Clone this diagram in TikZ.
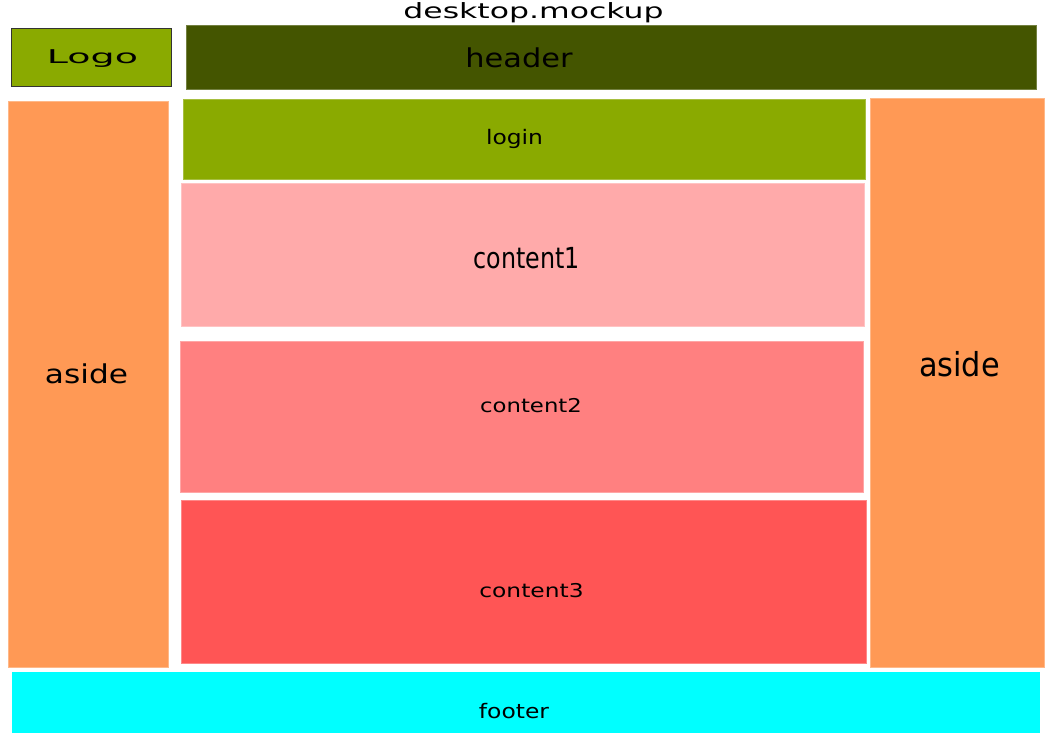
\documentclass[tikz,border=0pt]{standalone}
\usepackage{fontspec}
\setmainfont{DejaVu Sans}
\definecolor{logogreen}{HTML}{8AAA00}
\definecolor{headgreen}{HTML}{445500}
\definecolor{asideorange}{HTML}{FF9955}
\definecolor{pinkA}{HTML}{FFAAAA}
\definecolor{pinkB}{HTML}{FF8080}
\definecolor{pinkC}{HTML}{FF5555}
\definecolor{cyanF}{HTML}{00FFFF}
\newcommand{\lbl}[3]{\scalebox{#1}[1]{\fontsize{#2}{#2}\selectfont #3}}
\tikzset{
  box/.style={anchor=north west, inner sep=0pt, outer sep=0pt, line width=1pt},
  lab/.style={anchor=base, inner sep=0pt, text=black}
}
\begin{document}
\begin{tikzpicture}[x=1pt,y=-1pt]
\useasboundingbox[fill=white] (0,0) rectangle (1053,745);
% boxes
\node[box, fill=logogreen, draw=black!80, minimum width=160pt, minimum height=58pt] (logo) at (11,28) {};
\node[box, fill=headgreen, draw=headgreen!75!white, minimum width=850pt, minimum height=64pt] (header) at (186,25) {};
\node[box, fill=asideorange, draw=asideorange!70!white, minimum width=160pt, minimum height=566pt] (asideL) at (8,101) {};
\node[box, fill=logogreen, draw=logogreen!75!white, minimum width=682pt, minimum height=80pt] (login) at (183,99) {};
\node[box, fill=pinkA, draw=pinkA!70!white, minimum width=683pt, minimum height=143pt] (content1) at (181,183) {};
\node[box, fill=pinkB, draw=pinkB!70!white, minimum width=683pt, minimum height=151pt] (content2) at (180,341) {};
\node[box, fill=pinkC, draw=pinkC!70!white, minimum width=685pt, minimum height=163pt] (content3) at (181,500) {};
\node[box, fill=asideorange, draw=asideorange!70!white, minimum width=174pt, minimum height=569pt] (asideR) at (870,98) {};
\node[box, fill=cyanF, minimum width=1028pt, minimum height=61pt] (footer) at (12,672) {};
% labels
\node[lab] (ttitle) at (533.5,18) {\lbl{1.5}{21}{desktop.mockup}};
\node[lab] (tlogo) at (92.5,63) {\lbl{2.0}{19}{Logo}};
\node[lab] (theader) at (519,67) {\lbl{1.17}{26}{header}};
\node[lab] (tlogin) at (514.5,144) {\lbl{1.17}{20}{login}};
\node[lab] (tcontent1) at (527,268) {\lbl{0.82}{29}{content1}};
\node[lab] (tasideL) at (86.5,383) {\lbl{1.2}{26}{aside}};
\node[lab] (tasideR) at (959.5,376) {\lbl{0.92}{33}{aside}};
\node[lab] (tcontent2) at (531,412) {\lbl{1.2}{19}{content2}};
\node[lab] (tcontent3) at (531.5,597) {\lbl{1.23}{19}{content3}};
\node[lab] (tfooter) at (514,718) {\lbl{1.17}{20}{footer}};
\end{tikzpicture}
\end{document}
